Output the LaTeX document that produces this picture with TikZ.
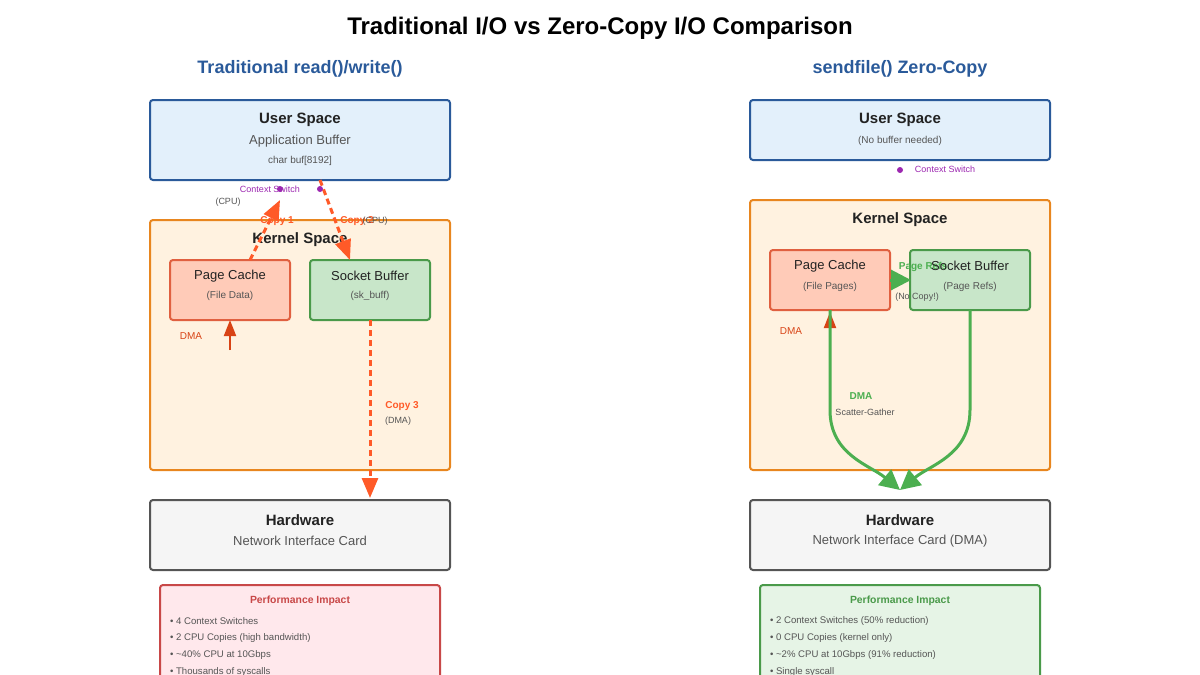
\documentclass[tikz,border=0pt]{standalone}
\usepackage{fontspec}
\setmainfont{Liberation Sans}
\usetikzlibrary{arrows.meta}
\definecolor{usrfill}{HTML}{E3F0FB}
\definecolor{usrdraw}{HTML}{2A5A9A}
\definecolor{krnfill}{HTML}{FFF2E0}
\definecolor{krndraw}{HTML}{E8861F}
\definecolor{pgfill}{HTML}{FFCBB8}
\definecolor{pgdraw}{HTML}{E06040}
\definecolor{skfill}{HTML}{C8E6C9}
\definecolor{skdraw}{HTML}{4A9A4A}
\definecolor{hwfill}{HTML}{F5F5F5}
\definecolor{hwdraw}{HTML}{555555}
\definecolor{badfill}{HTML}{FFE8EC}
\definecolor{baddraw}{HTML}{C84848}
\definecolor{goodfill}{HTML}{E6F4E6}
\definecolor{gooddraw}{HTML}{4A9A4A}
\definecolor{copyc}{HTML}{FF5A28}
\definecolor{dmac}{HTML}{D84315}
\definecolor{greenc}{HTML}{4CAF50}
\definecolor{purp}{HTML}{9C27B0}
\definecolor{txt}{HTML}{222222}
\definecolor{sub}{HTML}{555555}
\tikzset{
	box/.style={rounded corners=1.5pt, line width=1pt, inner sep=0pt},
	head/.style={font=\bfseries\fontsize{7.5}{9}\selectfont, text=txt},
	mid/.style={font=\fontsize{6.5}{8}\selectfont, text=txt},
	small/.style={font=\fontsize{5}{6}\selectfont, text=sub},
	tiny/.style={font=\fontsize{4.5}{5.5}\selectfont},
	bul/.style={font=\fontsize{4.8}{6}\selectfont, text=sub, anchor=west},
	copyarr/.style={->, copyc, line width=1.5pt, dash pattern=on 3pt off 2pt, >={Triangle[length=10pt,width=8pt]}},
	greenarr/.style={->, greenc, line width=1.5pt, >={Triangle[length=10pt,width=10pt]}}
}
\begin{document}
\begin{tikzpicture}[x=0.5pt,y=-0.5pt]
	\useasboundingbox (0,0) rectangle (1200,675);
	%
	%  TITLES
	%
	\node (title) at (600,28) {\bfseries\fontsize{12}{14}\selectfont Traditional I/O vs Zero-Copy I/O Comparison};
	\node[text=usrdraw] (lt) at (300,69) {\bfseries\fontsize{9}{11}\selectfont Traditional read()/write()};
	\node[text=usrdraw] (rt) at (900,69) {\bfseries\fontsize{9}{11}\selectfont sendfile() Zero-Copy};
	%
	%  LEFT SIDE
	%
	\draw[box, fill=usrfill, draw=usrdraw] (150,100) rectangle (450,180);
	\node[head] (lusr) at (300,120) {User Space};
	\node[mid, text=sub] (lapp) at (300,141) {Application Buffer};
	\node[small] (lbuf) at (300,161) {char buf[8192]};
	\draw[box, fill=krnfill, draw=krndraw] (150,220) rectangle (450,470);
	\node[head] (lkrn) at (300,240) {Kernel Space};
	\draw[box, fill=pgfill, draw=pgdraw] (170,260) rectangle (290,320);
	\node[mid] (lpg) at (230,276) {Page Cache};
	\node[small] (lpgs) at (230,296) {(File Data)};
	\draw[box, fill=skfill, draw=skdraw] (310,260) rectangle (430,320);
	\node[mid] (lsk) at (370,276) {Socket Buffer};
	\node[small] (lsks) at (370,296) {(sk\_buff)};
	\draw[box, fill=hwfill, draw=hwdraw] (150,500) rectangle (450,570);
	\node[head] (lhw) at (300,520) {Hardware};
	\node[mid, text=sub] (lhws) at (300,541) {Network Interface Card};
	%
	\coordinate (c1a) at (250,260);
	\coordinate (c1b) at (280,200);
	\coordinate (c2a) at (320,180);
	\coordinate (c2b) at (350,260);
	\coordinate (c3a) at (370,320);
	\coordinate (c3b) at (370,498);
	\coordinate (da) at (230,350);
	\coordinate (db) at (230,320);
	\draw[copyarr] (c1a) -- (c1b);
	\draw[copyarr] (c2a) -- (c2b);
	\draw[copyarr] (c3a) -- (c3b);
	\draw[->, dmac, line width=1pt, >={Triangle[length=8pt,width=6pt]}] (da) -- (db);
	%
	\node[tiny, text=purp] (lcs) at (270,189) {Context Switch};
	\fill[purp] (280,189) circle (3) (320,189) circle (3);
	\node[tiny, text=sub] (lcpu) at (228,202) {(CPU)};
	\node[tiny, text=copyc, font=\bfseries\fontsize{5}{6}\selectfont] (lc1) at (277,221) {Copy 1};
	\node[tiny, text=copyc, font=\bfseries\fontsize{5}{6}\selectfont] (lc2) at (357,221) {Copy 2};
	\node[tiny, text=sub] (lcpu2) at (375,221) {(CPU)};
	\node[tiny, text=dmac, font=\fontsize{5}{6}\selectfont] (ldma) at (191,336) {DMA};
	\node[tiny, text=copyc, font=\bfseries\fontsize{5}{6}\selectfont] (lc3) at (402,406) {Copy 3};
	\node[tiny, text=sub] (ldmas) at (398,421) {(DMA)};
	%
	\draw[box, fill=badfill, draw=baddraw] (160,585) rectangle (440,690);
	\node[text=baddraw] (lperf) at (300,601) {\bfseries\fontsize{5.2}{6}\selectfont Performance Impact};
	\node[bul] (lb1) at (163,621) {• 4 Context Switches};
	\node[bul] (lb2) at (163,638) {• 2 CPU Copies (high bandwidth)};
	\node[bul] (lb3) at (163,655) {• \textasciitilde40\% CPU at 10Gbps};
	\node[bul] (lb4) at (163,672) {• Thousands of syscalls};
	%
	%  RIGHT SIDE
	%
	\draw[box, fill=usrfill, draw=usrdraw] (750,100) rectangle (1050,160);
	\node[head] (rusr) at (900,120) {User Space};
	\node[small] (rusrs) at (900,141) {(No buffer needed)};
	\fill[purp] (900,170) circle (3);
	\node[tiny, text=purp] (rcs) at (945,169) {Context Switch};
	\draw[box, fill=krnfill, draw=krndraw] (750,200) rectangle (1050,470);
	\node[head] (rkrn) at (900,220) {Kernel Space};
	\draw[box, fill=pgfill, draw=pgdraw] (770,250) rectangle (890,310);
	\node[mid] (rpg) at (830,266) {Page Cache};
	\node[small] (rpgs) at (830,287) {(File Pages)};
	\draw[box, fill=skfill, draw=skdraw] (910,250) rectangle (1030,310);
	\node[text=greenc] (rref) at (923,267) {\bfseries\fontsize{5}{6}\selectfont Page Refs};
	\node[tiny, text=sub] (rnc) at (917,297) {(No Copy!)};
	\node[mid] (rsk) at (970,266) {Socket Buffer};
	\node[small] (rsks) at (970,287) {(Page Refs)};
	\draw[box, fill=hwfill, draw=hwdraw] (750,500) rectangle (1050,570);
	\node[head] (rhw) at (900,520) {Hardware};
	\node[mid, text=sub] (rhws) at (900,541) {Network Interface Card (DMA)};
	%
	\coordinate (ra) at (890,280);
	\coordinate (rb) at (911,280);
	\coordinate (pgb) at (830,310);
	\coordinate (skb) at (970,310);
	\coordinate (hwt) at (900,490);
	\draw[->, dmac, line width=1pt, >={Triangle[length=8pt,width=6pt]}] (830,328) -- (830,312);
	\draw[greenarr] (ra) -- (rb);
	\draw[greenarr] (pgb) -- (830,410) .. controls (830,455) and (870,465) .. (hwt);
	\draw[greenarr] (skb) -- (970,410) .. controls (970,455) and (930,465) .. (hwt);
	\node[tiny, text=dmac, font=\fontsize{5}{6}\selectfont] (rdma) at (791,331) {DMA};
	\node[text=greenc] (rdma2) at (861,396) {\bfseries\fontsize{5}{6}\selectfont DMA};
	\node[tiny, text=sub] (rsg) at (865,412) {Scatter-Gather};
	%
	\draw[box, fill=goodfill, draw=gooddraw] (760,585) rectangle (1040,690);
	\node[text=gooddraw] (rperf) at (900,601) {\bfseries\fontsize{5.2}{6}\selectfont Performance Impact};
	\node[bul] (rb1) at (763,621) {• 2 Context Switches (50\% reduction)};
	\node[bul] (rb2) at (763,638) {• 0 CPU Copies (kernel only)};
	\node[bul] (rb3) at (763,655) {• \textasciitilde2\% CPU at 10Gbps (91\% reduction)};
	\node[bul] (rb4) at (763,672) {• Single syscall};
\end{tikzpicture}
\end{document}
